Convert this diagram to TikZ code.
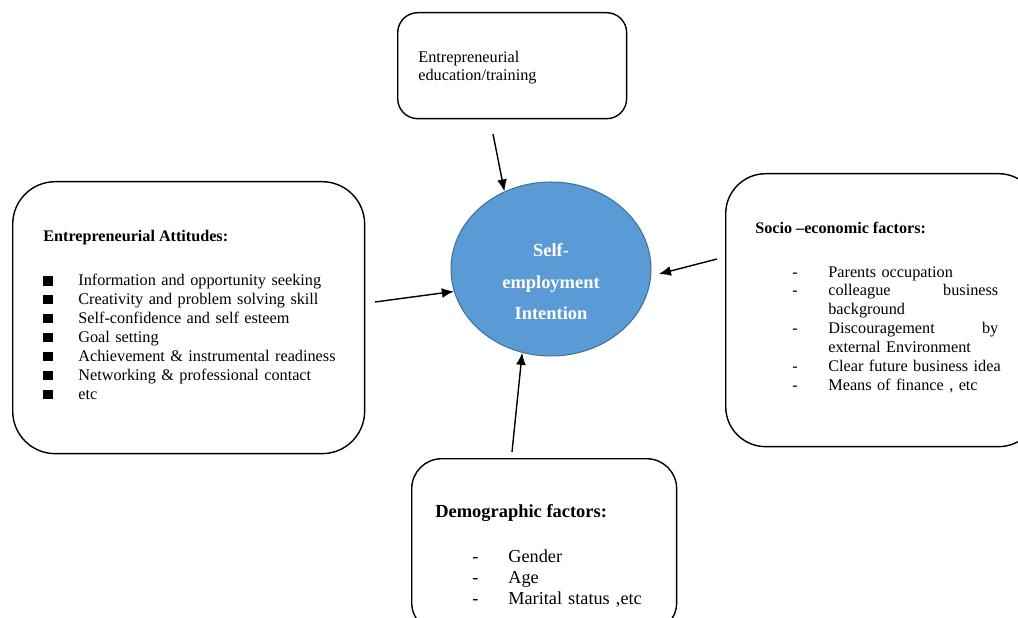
\documentclass[tikz,border=0pt]{standalone}
\usepackage{fontspec}
\setmainfont{Liberation Serif}
\usetikzlibrary{positioning}
\usetikzlibrary{arrows.meta,shapes}
\definecolor{circfill}{HTML}{5B9BD5}
\definecolor{circline}{HTML}{41719C}
\newcommand{\sqitem}[1]{\makebox[0.7cm][l]{\rule[0.01cm]{0.19cm}{0.19cm}}#1}
\newcommand{\dashitem}[1]{\makebox[0.72cm][l]{-}#1}

\begin{document}
\begin{tikzpicture}[x=0.02cm,y=-0.02cm,
  box/.style={draw=black,line width=0.8pt,rounded corners=#1,anchor=north west,inner sep=0pt},
  box/.default=0.8cm,
  txt/.style={anchor=base west,inner sep=0pt,align=left,text width=#1,font=\fontsize{9.25}{10.77}\selectfont},
  txt/.default=6cm,
  head/.style={anchor=base west,inner sep=0pt,font=\fontsize{9.2}{11}\selectfont\bfseries},
  arr/.style={-{Latex[length=2.4mm,width=2mm]},line width=0.8pt}]
\useasboundingbox (0,0) rectangle (1018,618);

\node[box=0.4cm,minimum width=4.58cm,minimum height=2.12cm] (eduBox) at (397,12) {};
\node[box=0.85cm,minimum width=7.04cm,minimum height=5.44cm] (attBox) at (12,181) {};
\node[box=0.8cm,minimum width=6.26cm,minimum height=5.46cm] (socioBox) at (725,173) {};
\node[box=0.6cm,minimum width=5.3cm,minimum height=3.48cm] (demoBox) at (411,458) {};

\node[ellipse,draw=circline,fill=circfill,line width=0.6pt,minimum width=4cm,minimum height=3.48cm,inner sep=0pt] (intent) at (551,269) {};
\node[anchor=base,inner sep=0pt,align=center,text width=4cm,text=white,font=\fontsize{10.5}{17.9}\selectfont\bfseries] (intentText) at (551,257) {Self-\\employment\\Intention};

\node[txt=4cm,font=\fontsize{9.25}{10.2}\selectfont] (eduText) at (418,63) {Entrepreneurial\\education/training};

\node[head] (attTitle) at (43,242) {Entrepreneurial Attitudes:};
\node[txt] (attList) at (43,286) {\sqitem{Information and opportunity seeking}\\
\sqitem{Creativity and problem solving skill}\\
\sqitem{Self-confidence and self esteem}\\
\sqitem{Goal setting}\\
\sqitem{Achievement \& instrumental readiness}\\
\sqitem{Networking \& professional contact}\\
\sqitem{etc}};

\node[head] (socioTitle) at (755,234) {Socio –economic factors:};
\node[txt=4.2cm] (socioList) at (792,277) {\dashitem{Parents occupation}\\
\dashitem{\makebox[3.4cm]{colleague\hfill business}}\\
\hspace*{0.72cm}background\\
\dashitem{\makebox[3.4cm]{Discouragement\hfill by}}\\
\hspace*{0.72cm}external Environment\\
\dashitem{Clear future business idea}\\
\dashitem{Means of finance , etc}};

\node[head,font=\fontsize{10.5}{12}\selectfont\bfseries] (demoTitle) at (435,517) {Demographic factors:};
\node[txt=4cm,font=\fontsize{10.4}{12.2}\selectfont] (demoList) at (472,562) {\dashitem{Gender}\\
\dashitem{Age}\\
\dashitem{Marital status ,etc}};

\coordinate (eduTail) at (493,134);
\coordinate (attTail) at (375,302);
\coordinate (socioTail) at (717,259);
\coordinate (demoTail) at (512,452);
\draw[arr] (eduTail) -- (intent.121);
\draw[arr] (attTail) -- (intent.193.5);
\draw[arr,shorten >=0.16cm] (socioTail) -- (intent.356);
\draw[arr] (demoTail) -- (intent.251);
\end{tikzpicture}
\end{document}
